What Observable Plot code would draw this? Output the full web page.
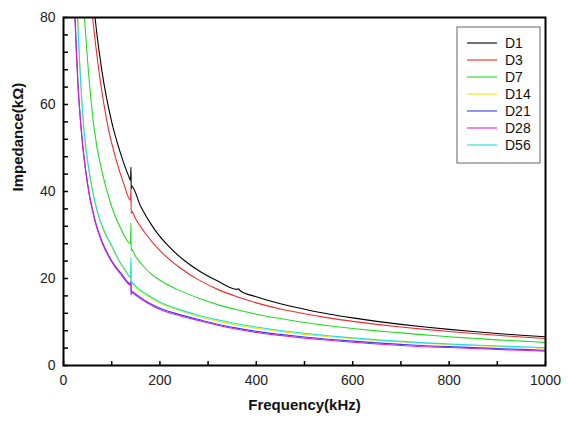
<!DOCTYPE html>
<html>
<head>
<meta charset="utf-8">
<script src="https://cdn.jsdelivr.net/npm/d3@7"></script>
<script src="https://cdn.jsdelivr.net/npm/@observablehq/plot@0.6"></script>
<style>
  html, body { margin: 0; padding: 0; background: #fff; }
  #chart { width: 568px; height: 422px; }
  svg { font-family: "Liberation Sans", Arial, sans-serif; }
</style>
</head>
<body>
<div id="chart"></div>
<script>
// ---- data ----
const seriesNames = ["D1", "D3", "D7", "D14", "D21", "D28", "D56"];
const seriesColors = ["#000000", "#ee2b2b", "#22dd22", "#e8e800", "#3a3aff", "#d820d8", "#22dcdc"];

const freqD1 = [55, 65, 80, 100, 120, 135, 139, 140, 140.4, 140.8, 160, 188, 219, 250, 285, 320, 360, 363, 366, 400, 450, 500, 550, 600, 650, 700, 750, 800, 850, 900, 950, 1000];
const impD1  = [93, 80.5, 67.5, 56, 48.2, 43.6, 42.6, 45.6, 40.5, 41.3, 36.6, 31.4, 27.3, 24.2, 21.5, 19.4, 17.5, 17.65, 17.25, 15.8, 14.2, 12.95, 11.85, 10.95, 10.15, 9.45, 8.85, 8.3, 7.8, 7.35, 6.95, 6.6];

const freqD3 = [50, 60, 75, 93, 110, 125, 139, 140, 140.4, 140.8, 150, 167, 200, 240, 285, 320, 360, 400, 450, 500, 550, 600, 650, 700, 750, 800, 850, 900, 950, 1000];
const impD3  = [93, 80.5, 66.5, 54.5, 47, 41.8, 38.0, 40.6, 34.9, 35.5, 33.6, 30.8, 26.4, 22.6, 19.4, 17.5, 15.8, 14.4, 13.0, 11.9, 10.95, 10.15, 9.45, 8.85, 8.3, 7.8, 7.35, 6.95, 6.55, 6.2];

const freqD7 = [35, 43, 50, 63.5, 80, 100, 120, 139, 140, 140.4, 140.8, 150, 167, 181, 200, 236, 285, 320, 360, 400, 450, 500, 550, 600, 650, 700, 750, 800, 850, 900, 950, 1000];
const impD7  = [95, 80.5, 70, 54.5, 44.5, 36.5, 31.2, 28.0, 32.8, 26.3, 26.8, 25.0, 22.7, 21.1, 19.6, 17.5, 15.3, 14.0, 12.8, 11.8, 10.8, 9.9, 9.15, 8.5, 7.95, 7.5, 7.05, 6.6, 6.25, 5.9, 5.6, 5.3];

const freqD14 = [24, 29.3, 35, 42.8, 55, 70, 85, 98, 115, 130, 139, 140, 140.4, 140.8, 153, 175, 200, 240, 285, 320, 360, 400, 450, 500, 550, 600, 650, 700, 750, 800, 850, 900, 950, 1000];
const impD14  = [96, 80.5, 66.2, 53.5, 43.2, 35.2, 30.5, 27.7, 24.0, 21.4, 20.1, 23.2, 18.4, 18.9, 17.5, 15.9, 14.3, 12.65, 11.1, 10.2, 9.25, 8.55, 7.8, 7.15, 6.6, 6.15, 5.75, 5.4, 5.1, 4.85, 4.6, 4.4, 4.2, 4.0];

const freqD21 = [19.5, 23.8, 30, 37.5, 50, 65, 80, 100, 120, 139, 140, 140.4, 140.8, 153, 175, 200, 240, 285, 320, 360, 400, 450, 500, 550, 600, 650, 700, 750, 800, 850, 900, 950, 1000];
const impD21  = [95, 80.5, 64.8, 53.6, 41.8, 33.6, 28.5, 24.1, 21.1, 18.8, 19.4, 16.5, 17.0, 16.15, 14.55, 13.15, 11.75, 10.45, 9.5, 8.6, 7.85, 7.15, 6.55, 6.05, 5.6, 5.2, 4.85, 4.55, 4.35, 4.1, 3.9, 3.7, 3.5];

const freqD28 = [19, 23.4, 30, 37.3, 50, 65, 80, 100, 120, 139, 140, 140.4, 140.8, 153, 175, 200, 240, 285, 320, 360, 400, 450, 500, 550, 600, 650, 700, 750, 800, 850, 900, 950, 1000];
const impD28  = [96, 80.5, 64.5, 53.3, 41.5, 33.3, 28.2, 23.8, 20.8, 18.5, 19.0, 16.2, 16.8, 15.9, 14.3, 12.9, 11.5, 10.2, 9.25, 8.35, 7.6, 6.9, 6.3, 5.8, 5.35, 4.95, 4.6, 4.3, 4.15, 3.9, 3.7, 3.5, 3.3];

const freqD56 = [24, 29, 35, 42.8, 55, 70, 85, 98, 115, 130, 139, 140, 140.4, 140.8, 153, 175, 200, 240, 285, 320, 360, 400, 450, 500, 550, 600, 650, 700, 750, 800, 850, 900, 950, 1000];
const impD56  = [97, 80.5, 66.5, 53.8, 43.5, 35.5, 30.8, 28.0, 24.2, 21.6, 20.3, 24.8, 18.8, 19.1, 17.9, 16.2, 14.6, 12.9, 11.4, 10.5, 9.6, 8.85, 8.05, 7.4, 6.85, 6.35, 5.9, 5.55, 5.2, 4.95, 4.7, 4.5, 4.3, 4.1];

const xTickValues = [0, 100, 200, 300, 400, 500, 600, 700, 800, 900, 1000];
const xTickLabels = [0, 200, 400, 600, 800, 1000];
const yTickValues = [0, 4, 8, 12, 16, 20, 24, 28, 32, 36, 40, 44, 48, 52, 56, 60, 64, 68, 72, 76, 80];
const yTickLabels = [0, 20, 40, 60, 80];

const xTitle = "Frequency(kHz)";
const yTitle = "Impedance(kΩ)";

// ---- build table ----
const freqs = [freqD1, freqD3, freqD7, freqD14, freqD21, freqD28, freqD56];
const imps = [impD1, impD3, impD7, impD14, impD21, impD28, impD56];
const rows = [];
seriesNames.forEach((name, i) => {
  freqs[i].forEach((f, j) => rows.push({series: name, f, z: imps[i][j]}));
});

const W = 568, H = 422;
const mL = 63, mR = 23, mT = 17, mB = 57;
const innerW = W - mL - mR, innerH = H - mT - mB;

const chart = Plot.plot({
  width: W,
  height: H,
  marginLeft: mL,
  marginRight: mR,
  marginTop: mT,
  marginBottom: mB,
  style: {fontFamily: '"Liberation Sans", Arial, sans-serif', background: "#fff"},
  x: {domain: [0, 1000]},
  y: {domain: [0, 80]},
  color: {domain: seriesNames, range: seriesColors},
  marks: [
    Plot.line(rows, {x: "f", y: "z", z: "series", stroke: "series", strokeWidth: 1.1, curve: "monotone-x", clip: true}),
    Plot.tickY(yTickValues, {y: d => d, insetRight: innerW - 5, stroke: "#000", strokeWidth: 1.5}),
    Plot.tickX(xTickValues, {x: d => d, insetTop: innerH - 4, stroke: "#000", strokeWidth: 1.5}),
    Plot.axisY({ticks: yTickLabels, tickSize: 0, tickPadding: 8, fontSize: 14, label: null, fill: "#222", tickFormat: d => String(d)}),
    Plot.axisX({ticks: xTickLabels, tickSize: 0, tickPadding: 10, fontSize: 14, label: null, fill: "#222", tickFormat: d => String(d)}),
    Plot.frame({stroke: "#000", strokeWidth: 2}),
    Plot.text([yTitle], {text: d => d, frameAnchor: "left", dx: -45, rotate: -90, fontSize: 15, fontWeight: "bold", fill: "#111"}),
    Plot.text([xTitle], {text: d => d, frameAnchor: "bottom", dy: 44, fontSize: 15, fontWeight: "bold", fill: "#111"})
  ]
});

// ---- legend ----
const svg = d3.select(chart);
const lg = svg.append("g").attr("class", "legend").attr("text-anchor", "start");
const lx = 457, ly = 27, lw = 83, lh = 136, rowStep = 17;
lg.append("rect").attr("x", lx).attr("y", ly).attr("width", lw).attr("height", lh)
  .attr("fill", "#fff").attr("stroke", "#666").attr("stroke-width", 1);
seriesNames.forEach((name, i) => {
  const cy = ly + 16 + i * rowStep;
  lg.append("line").attr("x1", lx + 10).attr("x2", lx + 40).attr("y1", cy).attr("y2", cy)
    .attr("stroke", seriesColors[i]).attr("stroke-width", 1.1);
  lg.append("text").attr("x", lx + 48).attr("y", cy).attr("dy", "0.35em")
    .attr("text-anchor", "start").attr("font-size", 14).attr("fill", "#111").text(name);
});

document.getElementById("chart").appendChild(chart);
</script>
</body>
</html>
